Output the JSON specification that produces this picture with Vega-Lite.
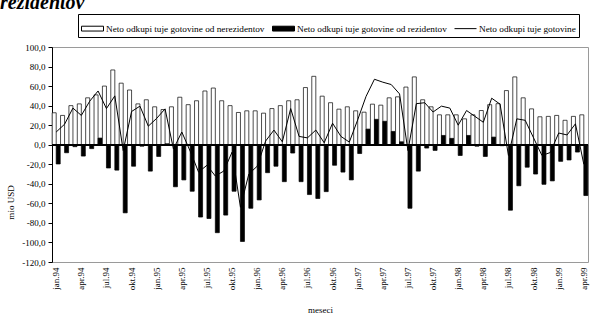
{
  "$schema": "https://vega.github.io/schema/vega-lite/v6.json",
  "width": 536,
  "height": 215,
  "autosize": {"type": "none"},
  "padding": {"left": 52, "top": 47, "right": 8, "bottom": 61},
  "background": "white",
  "title": {"text": "rezidentov", "font": "Liberation Serif", "fontSize": 20, "fontStyle": "italic", "fontWeight": "bold", "anchor": "start", "frame": "group", "dx": -52, "dy": 16, "offset": 1, "baseline": "alphabetic", "color": "black"},
  "config": {
    "view": {"stroke": "#9a9a9a", "strokeWidth": 1},
    "axis": {"labelFont": "Liberation Serif", "titleFont": "Liberation Serif", "labelColor": "black", "titleColor": "black", "titleFontWeight": "normal", "labelFontSize": 9, "titleFontSize": 9, "labelOverlap": false},
    "legend": {"strokeColor": "black", "symbolStrokeColor": "black", "symbolStrokeWidth": 1}
  },
  "data": {"values": [
    {"mesec": "jan.94", "nerez": 32.7, "rez": -19.7, "skupaj": 13},
    {"mesec": "feb.94", "nerez": 30, "rez": -8.2, "skupaj": 21},
    {"mesec": "mar.94", "nerez": 40, "rez": -2, "skupaj": 37.5},
    {"mesec": "apr.94", "nerez": 41.8, "rez": -11.6, "skupaj": 30},
    {"mesec": "maj.94", "nerez": 48, "rez": -4, "skupaj": 44.5},
    {"mesec": "jun.94", "nerez": 51, "rez": 6.8, "skupaj": 55},
    {"mesec": "jul.94", "nerez": 60, "rez": -23.8, "skupaj": 37},
    {"mesec": "avg.94", "nerez": 76.5, "rez": -26, "skupaj": 50},
    {"mesec": "sep.94", "nerez": 63, "rez": -69.7, "skupaj": -6},
    {"mesec": "okt.94", "nerez": 56, "rez": -22, "skupaj": 34},
    {"mesec": "nov.94", "nerez": 41.8, "rez": -1.5, "skupaj": 39.5},
    {"mesec": "dec.94", "nerez": 46, "rez": -27, "skupaj": 19},
    {"mesec": "jan.95", "nerez": 38.8, "rez": -12, "skupaj": 27},
    {"mesec": "feb.95", "nerez": 36, "rez": 1, "skupaj": 36.7},
    {"mesec": "mar.95", "nerez": 38.8, "rez": -43, "skupaj": -4.4},
    {"mesec": "apr.95", "nerez": 48.6, "rez": -36, "skupaj": 13},
    {"mesec": "maj.95", "nerez": 41, "rez": -47.6, "skupaj": -6.6},
    {"mesec": "jun.95", "nerez": 45, "rez": -74, "skupaj": -28},
    {"mesec": "jul.95", "nerez": 55, "rez": -75.5, "skupaj": -21},
    {"mesec": "avg.95", "nerez": 58, "rez": -90, "skupaj": -32},
    {"mesec": "sep.95", "nerez": 45, "rez": -72, "skupaj": -27},
    {"mesec": "okt.95", "nerez": 40, "rez": -47.6, "skupaj": -7.6},
    {"mesec": "nov.95", "nerez": 33, "rez": -99, "skupaj": -64},
    {"mesec": "dec.95", "nerez": 34.7, "rez": -65, "skupaj": -30},
    {"mesec": "jan.96", "nerez": 34.7, "rez": -56.5, "skupaj": -22},
    {"mesec": "feb.96", "nerez": 32.3, "rez": -28.6, "skupaj": 3.7},
    {"mesec": "mar.96", "nerez": 37, "rez": -22, "skupaj": 15},
    {"mesec": "apr.96", "nerez": 40, "rez": -37.8, "skupaj": 3},
    {"mesec": "maj.96", "nerez": 45, "rez": -8.5, "skupaj": 37},
    {"mesec": "jun.96", "nerez": 46, "rez": -37.8, "skupaj": 8.5},
    {"mesec": "jul.96", "nerez": 58.5, "rez": -51, "skupaj": 7},
    {"mesec": "avg.96", "nerez": 70, "rez": -55, "skupaj": 15},
    {"mesec": "sep.96", "nerez": 49.7, "rez": -48, "skupaj": 2},
    {"mesec": "okt.96", "nerez": 43, "rez": -21, "skupaj": 22},
    {"mesec": "nov.96", "nerez": 36.4, "rez": -28, "skupaj": 8.5},
    {"mesec": "dec.96", "nerez": 38.8, "rez": -36, "skupaj": 2.7},
    {"mesec": "jan.97", "nerez": 34.7, "rez": -9, "skupaj": 25.5},
    {"mesec": "feb.97", "nerez": 33.3, "rez": 16, "skupaj": 49.5},
    {"mesec": "mar.97", "nerez": 41.5, "rez": 26, "skupaj": 67},
    {"mesec": "apr.97", "nerez": 40.5, "rez": 24, "skupaj": 64},
    {"mesec": "maj.97", "nerez": 48, "rez": 13.6, "skupaj": 61.6},
    {"mesec": "jun.97", "nerez": 49, "rez": 3, "skupaj": 52},
    {"mesec": "jul.97", "nerez": 59, "rez": -65, "skupaj": -6},
    {"mesec": "avg.97", "nerez": 69.4, "rez": -27, "skupaj": 42},
    {"mesec": "sep.97", "nerez": 46, "rez": -3.4, "skupaj": 43},
    {"mesec": "okt.97", "nerez": 38.8, "rez": -5.8, "skupaj": 33.5},
    {"mesec": "nov.97", "nerez": 30.6, "rez": 9.5, "skupaj": 39.5},
    {"mesec": "dec.97", "nerez": 30.6, "rez": 6.5, "skupaj": 37.5},
    {"mesec": "jan.98", "nerez": 30.6, "rez": -11, "skupaj": 20},
    {"mesec": "feb.98", "nerez": 26.5, "rez": 9.5, "skupaj": 35},
    {"mesec": "mar.98", "nerez": 30.6, "rez": -1.5, "skupaj": 29},
    {"mesec": "apr.98", "nerez": 35, "rez": -12, "skupaj": 23},
    {"mesec": "maj.98", "nerez": 41, "rez": 7.8, "skupaj": 47.6},
    {"mesec": "jun.98", "nerez": 42, "rez": -1, "skupaj": 41.5},
    {"mesec": "jul.98", "nerez": 55.4, "rez": -67, "skupaj": -11},
    {"mesec": "avg.98", "nerez": 69.4, "rez": -42, "skupaj": 26.5},
    {"mesec": "sep.98", "nerez": 48, "rez": -23, "skupaj": 25},
    {"mesec": "okt.98", "nerez": 36.7, "rez": -30, "skupaj": 7},
    {"mesec": "nov.98", "nerez": 28.6, "rez": -40.5, "skupaj": -11},
    {"mesec": "dec.98", "nerez": 29, "rez": -37, "skupaj": -8},
    {"mesec": "jan.99", "nerez": 30, "rez": -17, "skupaj": 12},
    {"mesec": "feb.99", "nerez": 25, "rez": -15.6, "skupaj": 10},
    {"mesec": "mar.99", "nerez": 29, "rez": -7.5, "skupaj": 21.4},
    {"mesec": "apr.99", "nerez": 30.6, "rez": -52, "skupaj": -20}
  ]},
  "encoding": {
    "x": {
      "field": "mesec", "type": "ordinal", "sort": null,
      "scale": {"paddingInner": 0.04, "paddingOuter": 0.02},
      "axis": {
        "values": ["jan.94","apr.94","jul.94","okt.94","jan.95","apr.95","jul.95","okt.95","jan.96","apr.96","jul.96","okt.96","jan.97","apr.97","jul.97","okt.97","jan.98","apr.98","jul.98","okt.98","jan.99","apr.99"],
        "labelAngle": 270, "domain": false, "ticks": false, "labelPadding": 5,
        "title": "meseci", "titlePadding": 16
      }
    },
    "y": {
      "type": "quantitative",
      "scale": {"domain": [-120, 100], "nice": false},
      "axis": {
        "values": [-120,-100,-80,-60,-40,-20,0,20,40,60,80,100],
        "labelExpr": "replace(replace(format(datum.value,'.1f'),'.',','),'−','-')",
        "grid": false, "domainColor": "black", "tickColor": "black", "tickSize": 4, "labelPadding": 3,
        "title": "mio USD", "titleX": -37, "titleY": 155
      }
    }
  },
  "layer": [
    {
      "transform": [
        {"fold": ["nerez", "rez"], "as": ["kljuc", "vrednost"]},
        {"calculate": "datum.kljuc === 'nerez' ? 'Neto odkupi tuje gotovine od nerezidentov' : 'Neto odkupi tuje gotovine od rezidentov'", "as": "serija"}
      ],
      "mark": {"type": "bar", "stroke": "black", "strokeWidth": 0.7},
      "encoding": {
        "xOffset": {"field": "serija", "type": "nominal", "scale": {"domain": ["Neto odkupi tuje gotovine od nerezidentov", "Neto odkupi tuje gotovine od rezidentov"], "paddingInner": 0}},
        "y": {"field": "vrednost"},
        "color": {
          "field": "serija", "type": "nominal",
          "scale": {"domain": ["Neto odkupi tuje gotovine od nerezidentov", "Neto odkupi tuje gotovine od rezidentov", "Neto odkupi tuje gotovine"], "range": ["white", "black", "black"]},
          "legend": {
            "orient": "none", "legendX": 26, "legendY": -33, "direction": "horizontal",
            "title": null, "strokeColor": "black", "padding": 3,
            "labelFont": "Liberation Serif", "labelFontSize": 9.25, "labelColor": "black", "labelLimit": 400,
            "symbolSize": 484, "symbolStrokeColor": "black", "symbolStrokeWidth": 1, "labelOffset": 2, "columnPadding": 5,
            "symbolType": "M-1,-0.22H1V0.22H-1Z",
            "encode": {
              "symbols": {"update": {
                "shape": {"signal": "datum.value === 'Neto odkupi tuje gotovine' ? 'M-1,0H1' : 'M-1,-0.22H1V0.22H-1Z'"},
                "stroke": {"value": "black"},
                "strokeWidth": {"value": 1}
              }}
            }
          }
        }
      }
    },
    {
      "mark": {"type": "rule", "color": "black", "strokeWidth": 1},
      "encoding": {"y": {"datum": 0}, "x": null}
    },
    {
      "mark": {"type": "line", "strokeWidth": 1, "color": "black"},
      "encoding": {
        "y": {"field": "skupaj"}
      }
    }
  ]
}
